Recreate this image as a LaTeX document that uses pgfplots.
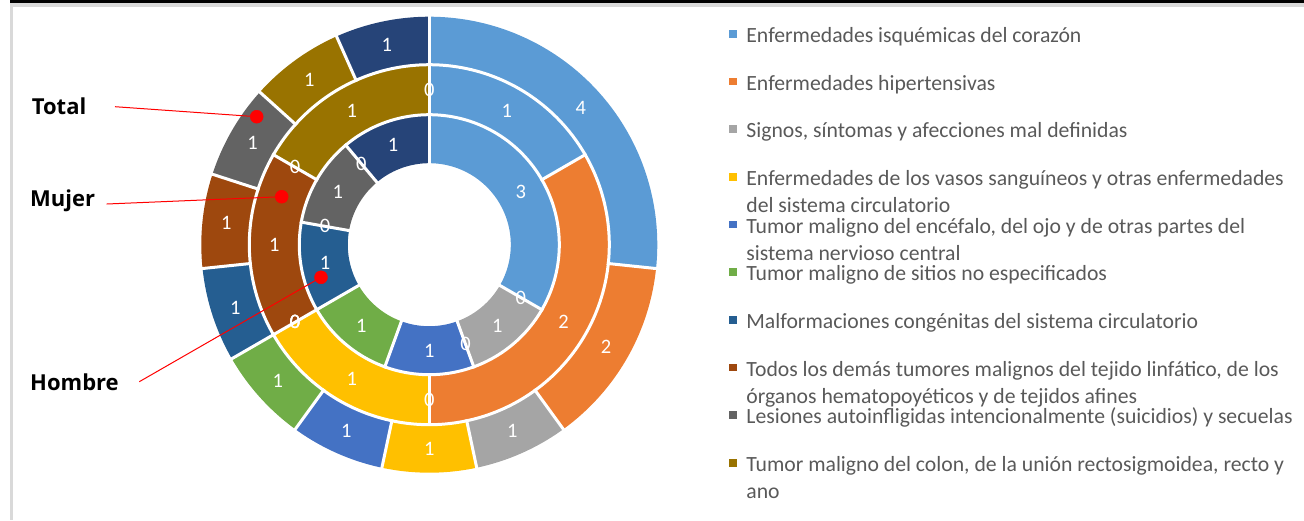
\documentclass[border=0pt]{standalone}
\usepackage{pgfplots}
\pgfplotsset{compat=1.18}
\usepackage{pgfplotstable}
\usepackage{fontspec}
\setmainfont{Carlito}
\newfontfamily\osans{Open Sans}

\definecolor{c0}{HTML}{5B9BD5}
\definecolor{c1}{HTML}{ED7D31}
\definecolor{c2}{HTML}{A5A5A5}
\definecolor{c3}{HTML}{FFC000}
\definecolor{c4}{HTML}{4472C4}
\definecolor{c5}{HTML}{70AD47}
\definecolor{c6}{HTML}{255E91}
\definecolor{c7}{HTML}{9E480E}
\definecolor{c8}{HTML}{636363}
\definecolor{c9}{HTML}{997300}
\definecolor{c10}{HTML}{264478}
\definecolor{legtext}{HTML}{595959}
\definecolor{framegray}{HTML}{D9D9D9}

% h = Hombre (inner), m = Mujer (middle), t = Total (outer)
\pgfplotstableread{
h m t
3 1 4
0 2 2
1 0 1
0 1 1
1 0 1
1 0 1
1 0 1
0 1 1
1 0 1
0 1 1
1 0 1
}\datatable

\def\cx{429.3}
\def\cy{244.7}

\tikzset{dlabel/.style={text=white, font=\fontsize{20.5}{24}\selectfont, inner sep=0pt}}

\newcommand\ringsum[1]{%
  \def\rsum{0}%
  \pgfplotsforeachungrouped \i in {0,...,10}{%
    \pgfplotstablegetelem{\i}{#1}\of\datatable
    \pgfmathsetmacro\rsum{\rsum+\pgfplotsretval}%
  }%
}

\newcommand\ringarcs[3]{%
  \ringsum{#1}%
  \pgfmathsetmacro\rmid{(#2+#3)/2}%
  \pgfmathsetmacro\rw{#3-#2}%
  \def\cum{0}%
  \pgfplotsforeachungrouped \i in {0,...,10}{%
    \pgfplotstablegetelem{\i}{#1}\of\datatable
    \let\val\pgfplotsretval
    \pgfmathsetmacro\angA{360*\cum/\rsum}%
    \pgfmathsetmacro\cum{\cum+\val}%
    \pgfmathsetmacro\angB{360*\cum/\rsum}%
    \ifdim\val pt>0pt
      \edef\temp{\noexpand\addplot[forget plot, draw=c\i, line width=\rw pt, domain=\angA:\angB, samples=90] ({\cx+\rmid*sin(x)},{\cy-\rmid*cos(x)});}%
      \temp
    \fi
  }%
}

\newcommand\ringseps[3]{%
  \ringsum{#1}%
  \def\cum{0}%
  \pgfplotsforeachungrouped \i in {0,...,10}{%
    \pgfplotstablegetelem{\i}{#1}\of\datatable
    \let\val\pgfplotsretval
    \pgfmathsetmacro\angA{360*\cum/\rsum}%
    \pgfmathsetmacro\cum{\cum+\val}%
    \ifdim\val pt>0pt
      \pgfmathsetmacro\xa{\cx+(#2-1.5)*sin(\angA)}%
      \pgfmathsetmacro\ya{\cy-(#2-1.5)*cos(\angA)}%
      \pgfmathsetmacro\xb{\cx+(#3+1.5)*sin(\angA)}%
      \pgfmathsetmacro\yb{\cy-(#3+1.5)*cos(\angA)}%
      \edef\temp{\noexpand\addplot[forget plot, white, line width=3pt] coordinates {(\xa,\ya) (\xb,\yb)};}%
      \temp
    \fi
  }%
}

\newcommand\ringlabels[3]{%
  \ringsum{#1}%
  \pgfmathsetmacro\rmid{(#2+#3)/2}%
  \def\cum{0}%
  \pgfplotsforeachungrouped \i in {0,...,10}{%
    \pgfplotstablegetelem{\i}{#1}\of\datatable
    \let\val\pgfplotsretval
    \pgfmathsetmacro\angA{360*\cum/\rsum}%
    \pgfmathsetmacro\cum{\cum+\val}%
    \pgfmathsetmacro\angB{360*\cum/\rsum}%
    \pgfmathsetmacro\angL{(\angA+\angB)/2}%
    \pgfmathsetmacro\lx{\cx+\rmid*sin(\angL)}%
    \pgfmathsetmacro\ly{\cy-\rmid*cos(\angL)}%
    \edef\temp{\noexpand\node[dlabel] at (axis cs:\lx,\ly) {\val};}%
    \temp
  }%
}

\pgfplotsset{sqkey/.style={legend image code/.code={\fill[#1] (0pt,14.5pt) rectangle (7pt,21.2pt);}}}

\begin{document}
\begin{tikzpicture}
\begin{axis}[
  x=1pt, y=1pt, y dir=reverse,
  xmin=0, xmax=1304, ymin=0, ymax=520,
  hide axis, clip=false,
  legend cell align=left,
  legend style={
    at={(axis cs:729,27.5)}, anchor=north west,
    draw=none, fill=none, inner sep=0pt, outer sep=0pt,
    row sep=0pt, column sep=10pt,
    font=\fontsize{21.7}{27}\selectfont,
    nodes={inner sep=0pt, outer sep=0pt, text height=15pt, text depth=32.67pt, text=legtext},
  },
]
% page extent
\path (axis cs:0,0) rectangle (axis cs:1304,520);
% frame of the chart area
\fill[black] (axis cs:10,0) rectangle (axis cs:1304,3.3);
\fill[framegray] (axis cs:10,3.3) rectangle (axis cs:1304,7);
\fill[framegray] (axis cs:10,3.3) rectangle (axis cs:13.3,520);

\ringarcs{h}{81.5}{130}
\ringarcs{m}{130}{180}
\ringarcs{t}{180}{228}
\ringseps{h}{81.5}{130}
\ringseps{m}{130}{180}
\ringseps{t}{180}{228}
\addplot[forget plot, white, line width=3pt, domain=0:360, samples=240] ({\cx+130*sin(x)},{\cy-130*cos(x)});
\addplot[forget plot, white, line width=3pt, domain=0:360, samples=240] ({\cx+180*sin(x)},{\cy-180*cos(x)});
\ringlabels{h}{81.5}{130}
\ringlabels{m}{130}{180}
\ringlabels{t}{180}{228}

% callouts
\addplot[forget plot, red, line width=1pt] coordinates {(115,106.7) (256.7,116.7)};
\addplot[forget plot, red, line width=1pt] coordinates {(106.7,204) (281.7,196.7)};
\addplot[forget plot, red, line width=1pt] coordinates {(139.3,381.7) (321,277.3)};
\addplot[forget plot, red, only marks, mark=*, mark size=6.5pt] coordinates {(256.7,116.7) (281.7,196.7) (321,277.3)};
\node[anchor=base west, inner sep=0pt, font=\osans\bfseries\fontsize{22}{26}\selectfont] at (axis cs:31.7,114.3) {Total};
\node[anchor=base west, inner sep=0pt, font=\osans\bfseries\fontsize{22}{26}\selectfont] at (axis cs:30,206.7) {Mujer};
\node[anchor=base west, inner sep=0pt, font=\osans\bfseries\fontsize{22}{26}\selectfont] at (axis cs:30,390) {Hombre};

% legend
\addlegendimage{sqkey=c0}
\addlegendentry{\smash{\parbox[t]{550pt}{Enfermedades isquémicas del corazón}}}
\addlegendimage{sqkey=c1}
\addlegendentry{\smash{\parbox[t]{550pt}{Enfermedades hipertensivas}}}
\addlegendimage{sqkey=c2}
\addlegendentry{\smash{\parbox[t]{550pt}{Signos, síntomas y afecciones mal definidas}}}
\addlegendimage{sqkey=c3}
\addlegendentry{\smash{\parbox[t]{550pt}{Enfermedades de los vasos sanguíneos y otras enfermedades\\del sistema circulatorio}}}
\addlegendimage{sqkey=c4}
\addlegendentry{\smash{\parbox[t]{550pt}{Tumor maligno del encéfalo, del ojo y de otras partes del\\sistema nervioso central}}}
\addlegendimage{sqkey=c5}
\addlegendentry{\smash{\parbox[t]{550pt}{Tumor maligno de sitios no especificados}}}
\addlegendimage{sqkey=c6}
\addlegendentry{\smash{\parbox[t]{550pt}{Malformaciones congénitas del sistema circulatorio}}}
\addlegendimage{sqkey=c7}
\addlegendentry{\smash{\parbox[t]{550pt}{Todos los demás tumores malignos del tejido linfático, de los\\órganos hematopoyéticos y de tejidos afines}}}
\addlegendimage{sqkey=c8}
\addlegendentry{\smash{\parbox[t]{550pt}{Lesiones autoinfligidas intencionalmente (suicidios) y secuelas}}}
\addlegendimage{sqkey=c9}
\addlegendentry{\smash{\parbox[t]{550pt}{Tumor maligno del colon, de la unión rectosigmoidea, recto y\\ano}}}
\end{axis}
\end{tikzpicture}
\end{document}
